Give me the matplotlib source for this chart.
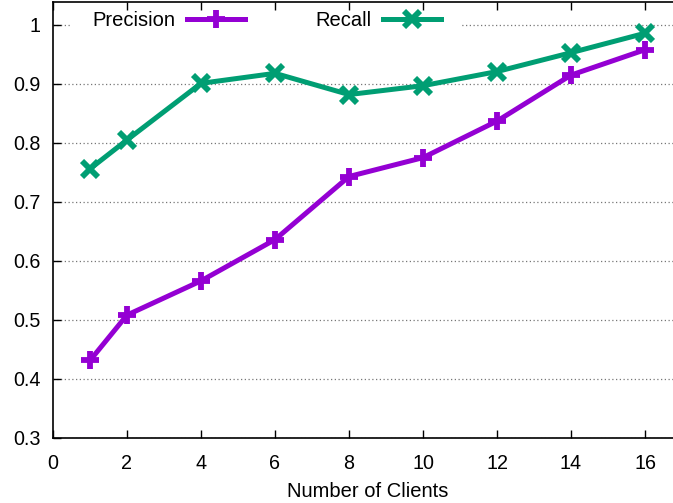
import matplotlib
matplotlib.use("Agg")
import matplotlib.pyplot as plt

clients = [1, 2, 4, 6, 8, 10, 12, 14, 16]
precision = [0.431, 0.508, 0.566, 0.636, 0.743, 0.775, 0.837, 0.915, 0.958]
recall = [0.756, 0.805, 0.901, 0.918, 0.882, 0.897, 0.921, 0.953, 0.986]
xticks = [0, 2, 4, 6, 8, 10, 12, 14, 16]
yticks = [0.3, 0.4, 0.5, 0.6, 0.7, 0.8, 0.9, 1.0]
ytick_labels = ["0.3", "0.4", "0.5", "0.6", "0.7", "0.8", "0.9", "1"]

plt.rcParams['font.family'] = ['Liberation Sans', 'DejaVu Sans']
FS = 14.5
TFS = 14.2

W, H = 673, 503
fig = plt.figure(figsize=(W / 100, H / 100), dpi=100)
left_px, bottom_px, top_px = 53, 437.7, 2
x_per_unit = 37.0
y_per_tenth = 589.6
xmax = 17
ax = fig.add_axes([left_px / W, (H - bottom_px) / H,
                   xmax * x_per_unit / W, (bottom_px - top_px) / H])

purple = '#9400D3'
green = '#009E73'

ax.plot(clients, precision, color=purple, lw=3.6, marker='+', ms=13, mew=4.2,
        label='Precision', zorder=3)
ax.plot(clients, recall, color=green, lw=3.6, marker='x', ms=12, mew=4.2,
        label='Recall', zorder=3)

ax.set_xlim(0, xmax)
ax.set_ylim(0.3, 0.3 + (bottom_px - top_px) / y_per_tenth)
ax.set_xticks(xticks)
ax.set_xticklabels([str(v) for v in xticks])
ax.set_yticks(yticks)
ax.set_yticklabels(ytick_labels)
ax.tick_params(axis='both', direction='in', length=6, width=1, labelsize=TFS,
               top=True, right=True, color='black')
ax.tick_params(axis='x', pad=12)
ax.tick_params(axis='y', pad=9)
ax.yaxis.grid(True, linestyle=(0, (1, 2)), color='#777777', lw=0.9)
ax.set_axisbelow(True)
ax.xaxis.set_zorder(4)
for s in ax.spines.values():
    s.set_linewidth(1.2)
    s.set_zorder(4)

ax.set_xlabel('Number of Clients', fontsize=FS, labelpad=6)

leg = ax.legend(loc='center left', bbox_to_anchor=(72 / W, (H - 20.5) / H),
                bbox_transform=fig.transFigure, ncol=2, markerfirst=False,
                frameon=True, framealpha=1, edgecolor='white', fancybox=False,
                fontsize=FS, handlelength=2.85, handletextpad=0.6,
                columnspacing=3.5, borderpad=1.0, borderaxespad=0)
leg.get_frame().set_linewidth(0)
leg.set_zorder(2)

fig.savefig('out.png', dpi=100)
